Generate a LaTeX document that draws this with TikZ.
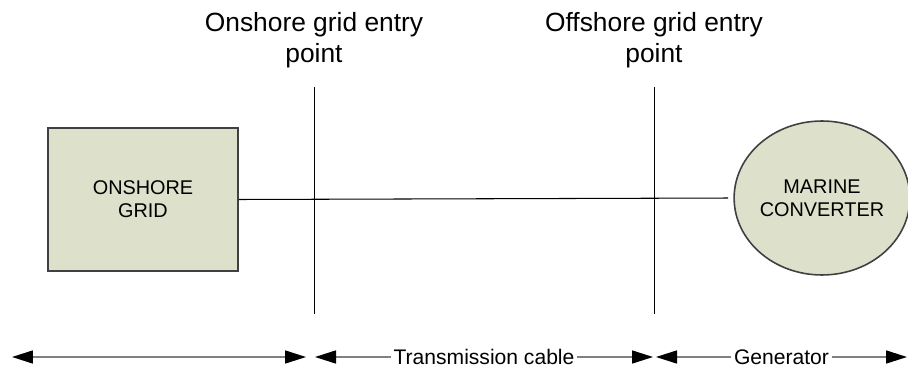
\documentclass[tikz,border=0pt]{standalone}
\usepackage{fontspec}
\setmainfont{Liberation Sans}
\usetikzlibrary{arrows.meta,shapes.geometric}
\definecolor{gridfill}{HTML}{DDE0CB}
\definecolor{edgegrey}{HTML}{404040}
\begin{document}
\begin{tikzpicture}
	[	x=0.02cm,y=-0.02cm,
		unit/.style={draw=edgegrey,fill=gridfill,line width=0.9pt,align=center,
			font=\fontsize{11.3}{13}\selectfont},
		marker/.style={align=center,font=\fontsize{15}{17.5}\selectfont},
		span/.style={{Triangle[length=0.42cm,width=0.26cm,color=black]}-{Triangle[length=0.42cm,width=0.26cm,color=black]},
			draw=gray,line width=0.9pt},
		spanlabel/.style={fill=white,inner xsep=1.5pt,inner ysep=0pt,font=\fontsize{12}{14}\selectfont}
		]
		\useasboundingbox (0,0) rectangle (908,367);

		\node[unit,rectangle,minimum width=3.8cm,minimum height=2.86cm] (onshore) at (143,199.5){ONSHORE\\GRID};
		\node[unit,ellipse,minimum width=3.4cm,minimum height=3.08cm,inner sep=0pt] (marine) at (822,198){MARINE\\CONVERTER};

		\draw[line width=0.6pt,shorten >=3pt] (onshore.east) -- (marine.west);

\coordinate (ontop) at (314,87);
\coordinate (onbot) at (314,314);
\coordinate (offtop) at (654,87);
\coordinate (offbot) at (654,314);
\draw[line width=0.5pt] (ontop) -- (onbot);
\draw[line width=0.5pt] (offtop) -- (offbot);
\node[marker] (onlabel) at (314,40){Onshore grid entry\\point};
\node[marker] (offlabel) at (654,40){Offshore grid entry\\point};

\coordinate (a0) at (12,357);
\coordinate (a1) at (306,357);
\coordinate (a2) at (315,357);
\coordinate (a3) at (653,357);
\coordinate (a4) at (656,357);
\coordinate (a5) at (907,357);
		\draw[span] (a0) -- (a1);
		\draw[span] (a2) -- node[spanlabel] (cable){Transmission cable} (a3);
		\draw[span] (a4) -- node[spanlabel,pos=0.5] (gen){Generator} (a5);
	\end{tikzpicture}
\end{document}
